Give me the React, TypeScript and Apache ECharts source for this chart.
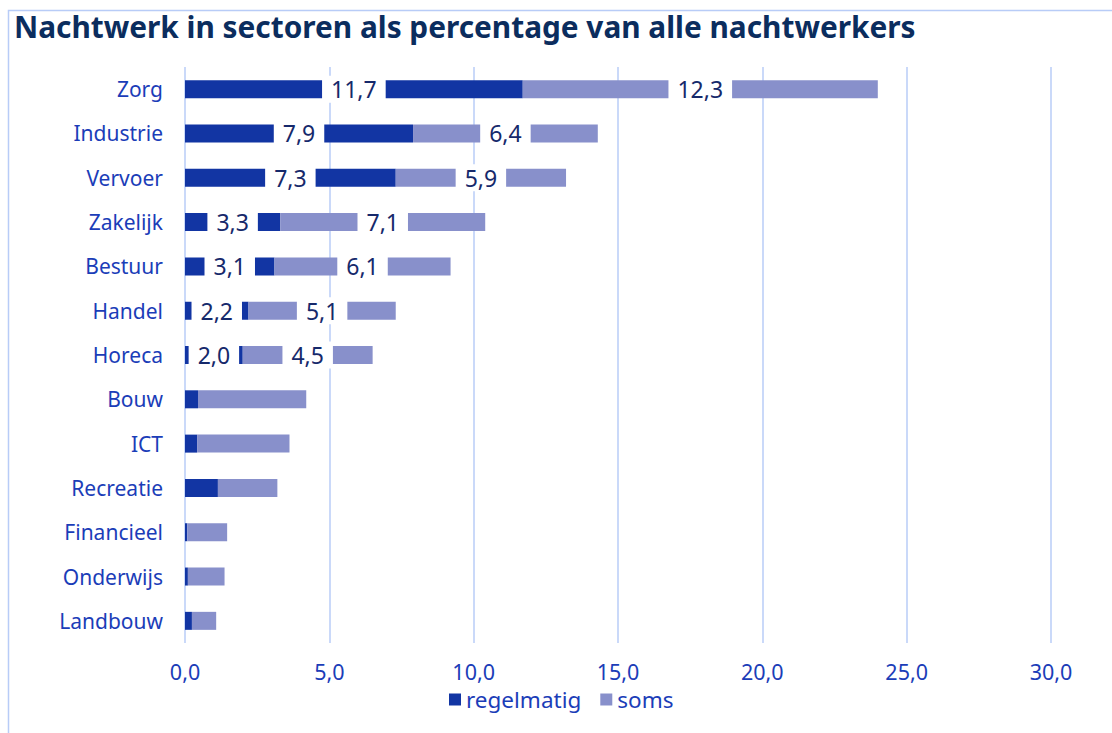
import React, { useEffect, useRef } from "react";
import * as echarts from "echarts";

const categories = ["Zorg", "Industrie", "Vervoer", "Zakelijk", "Bestuur", "Handel", "Horeca", "Bouw", "ICT", "Recreatie", "Financieel", "Onderwijs", "Landbouw"];
const regelmatig = [11.7, 7.9, 7.3, 3.3, 3.1, 2.2, 2.0, 0.45, 0.42, 1.14, 0.08, 0.1, 0.24];
const soms = [12.3, 6.4, 5.9, 7.1, 6.1, 5.1, 4.5, 3.75, 3.2, 2.06, 1.38, 1.27, 0.84];
const labelled = [true, true, true, true, true, true, true, false, false, false, false, false, false];
const xTicks = [0, 5, 10, 15, 20, 25, 30];

const FONT = "Noto Sans";
const fmt = (v: number) => v.toFixed(1).replace(".", ",");

export default function App() {
  const ref = useRef<HTMLDivElement>(null);
  useEffect(() => {
    if (!ref.current) return;
    const chart = echarts.init(ref.current, null, { renderer: "svg" });
    const labelStyle = {
      position: "inside",
      color: "#16296b",
      fontSize: 23,
      fontFamily: FONT,
      backgroundColor: "#ffffff",
      padding: [2, 9, 2, 9],
      formatter: (p: any) => fmt(p.value),
    };
    const mk = (vals: number[]) =>
      vals.map((v, i) => ({ value: v, label: { show: labelled[i] } }));
    chart.setOption({
      animation: false,
      textStyle: { fontFamily: FONT },
      title: {
        text: "Nachtwerk in sectoren als percentage van alle nachtwerkers",
        left: 9,
        top: 6,
        textStyle: { fontSize: 29.8, fontWeight: "bold", color: "#0b2d5e", fontFamily: FONT },
      },
      graphic: [
        {
          type: "rect",
          shape: { x: 8.5, y: 10.5, width: 1300, height: 900 },
          style: { fill: "none", stroke: "#b8ccf7", lineWidth: 1.5 },
          silent: true,
        },
      ],
      legend: {
        top: 683,
        left: 444,
        icon: "rect",
        itemWidth: 12,
        itemHeight: 12,
        itemGap: 19,
        textStyle: { fontSize: 22.5, color: "#1b3db8", fontFamily: FONT },
        data: ["regelmatig", "soms"],
      },
      grid: { left: 185, right: 61, top: 67, bottom: 90, containLabel: false },
      xAxis: {
        type: "value",
        min: xTicks[0],
        max: xTicks[xTicks.length - 1],
        interval: 5,
        axisLine: { show: false },
        axisTick: { show: false },
        axisLabel: { formatter: (v: number) => fmt(v), fontSize: 21.5, color: "#1b3db8", margin: 17, fontFamily: FONT },
        splitLine: { show: true, lineStyle: { color: "#b8ccf7", width: 1.5 } },
      },
      yAxis: {
        type: "category",
        data: categories,
        inverse: true,
        axisLine: { show: false },
        axisTick: { show: false },
        axisLabel: { fontSize: 21, color: "#1b3db8", margin: 22, fontFamily: FONT },
      },
      series: [
        {
          name: "regelmatig",
          type: "bar",
          stack: "total",
          barWidth: 18,
          itemStyle: { color: "#1235a3" },
          label: labelStyle,
          data: mk(regelmatig),
        },
        {
          name: "soms",
          type: "bar",
          stack: "total",
          barWidth: 18,
          itemStyle: { color: "#8890cb" },
          label: labelStyle,
          data: mk(soms),
        },
      ],
    });
    return () => chart.dispose();
  }, []);
  return (
    <div
      ref={ref}
      style={{ position: "absolute", left: 0, top: 0, width: 1112, height: 733, background: "#fff" }}
    />
  );
}
